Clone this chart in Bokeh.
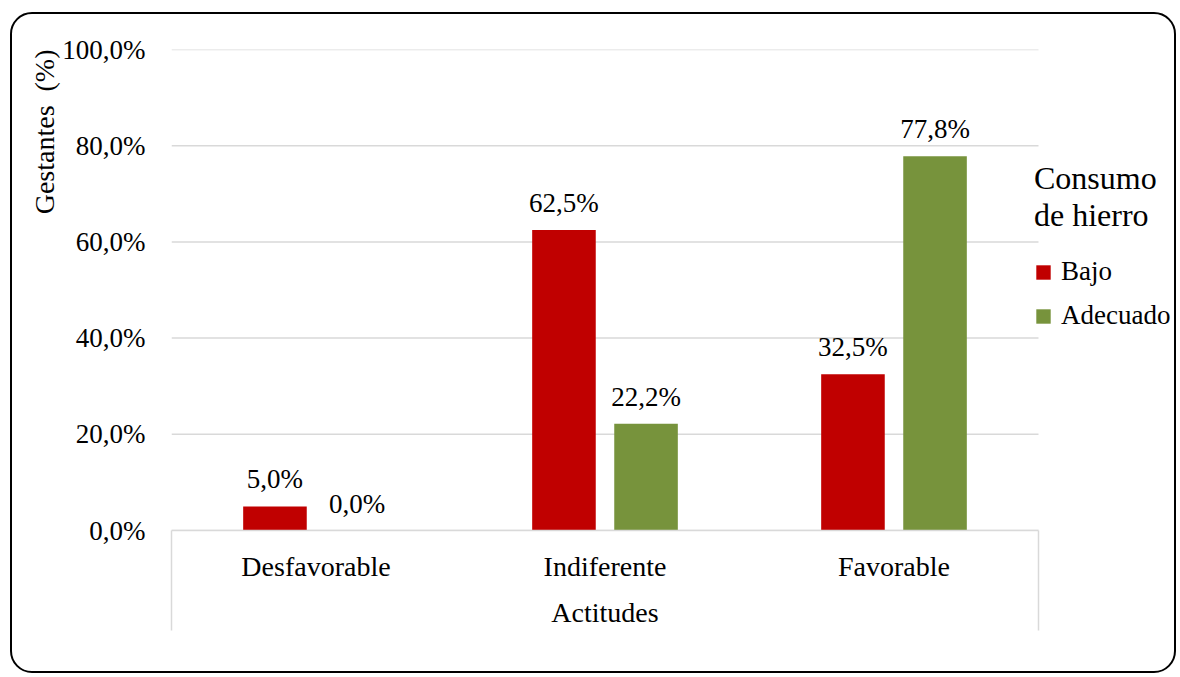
from bokeh.plotting import figure
from bokeh.models import (Range1d, FixedTicker, Legend, LegendItem,
                          ColumnDataSource, Title, LinearAxis)
from bokeh.core.properties import value
from bokeh.embed import file_html
from bokeh.resources import INLINE

# Datos
categorias = ["Desfavorable", "Indiferente", "Favorable"]
bajo = [5.0, 62.5, 32.5]
adecuado = [0.0, 22.2, 77.8]
series = ["Bajo", "Adecuado"]
colores = ["#C00000", "#77933C"]
y_ticks = [0, 20, 40, 60, 80, 100]
titulo_x = "Actitudes"
titulo_y = "Gestantes\u00a0 (%)"
titulo_leyenda = "Consumo\nde hierro"

FONT = "Liberation Serif"
GRIS = "#D9D9D9"
DESPL = 0.142      # desplazamiento de cada serie respecto al centro de la categoría
ANCHO = 0.22
BORDE_X = 100      # largo de las líneas verticales en los extremos del eje X

W, H = 1166, 661   # lienzo; el marco redondeado se dibuja por fuera
MARCO = 2
IZQ, ABAJO, ARRIBA = 159, 145, 35
ANCHO_CAT = 289    # píxeles por categoría
n_cat = len(categorias)
# el área de trazado llega hasta el borde derecho para alojar la leyenda;
# las categorías ocupan solo la parte izquierda
x_fin = (W - IZQ) / ANCHO_CAT


def pct(v):
    return f"{v:.1f}".replace(".", ",") + "%"


centros = [i + 0.5 for i in range(n_cat)]
src = ColumnDataSource(dict(
    x_bajo=[c - DESPL for c in centros],
    x_adec=[c + DESPL for c in centros],
    bajo=bajo,
    adecuado=adecuado,
    et_bajo=[pct(v) for v in bajo],
    et_adec=[pct(v) for v in adecuado],
))

p = figure(width=W, height=H,
           x_range=Range1d(0, x_fin), y_range=Range1d(0, 100),
           output_backend="svg", toolbar_location=None,
           min_border_left=IZQ, min_border_right=0,
           min_border_top=ARRIBA, min_border_bottom=ABAJO)
p.outline_line_color = None
p.border_fill_color = None
p.background_fill_color = None
p.styles = {"margin-left": "10px", "margin-top": "12px",
            "border": f"{MARCO}px solid #000", "border-radius": "22px",
            "overflow": "hidden"}

# Líneas de división horizontales, limitadas a la zona de categorías
p.xgrid.grid_line_color = None
p.ygrid.grid_line_color = None
p.segment(x0=[0] * len(y_ticks), x1=[n_cat] * len(y_ticks),
          y0=y_ticks, y1=y_ticks, line_color=GRIS, line_width=1.5)

r_bajo = p.vbar(x="x_bajo", top="bajo", width=ANCHO, source=src,
                fill_color=colores[0], line_color=None)
r_adec = p.vbar(x="x_adec", top="adecuado", width=ANCHO, source=src,
                fill_color=colores[1], line_color=None)

for xcol, ycol, tcol in (("x_bajo", "bajo", "et_bajo"),
                         ("x_adec", "adecuado", "et_adec")):
    p.text(x=xcol, y=ycol, text=tcol, source=src,
           text_align="center", text_baseline="middle", y_offset=-27,
           text_font=value(FONT), text_font_size="27px", text_color="#000")

# Eje Y
p.yaxis.ticker = FixedTicker(ticks=y_ticks)
p.yaxis.major_label_overrides = {t: pct(t) for t in y_ticks}
p.yaxis.axis_line_color = None
p.yaxis.major_tick_line_color = None
p.yaxis.minor_tick_line_color = None
p.yaxis.major_tick_out = 0
p.yaxis.major_tick_in = 0
p.yaxis.major_label_standoff = 26
p.yaxis.major_label_text_font = FONT
p.yaxis.major_label_text_font_size = "27px"
p.yaxis.major_label_text_color = "#000"

# Eje X: etiquetas en el centro de cada categoría, marcas largas en los bordes
p.xaxis.bounds = (0, n_cat)
p.xaxis.ticker = FixedTicker(ticks=centros, minor_ticks=[0, n_cat])
p.xaxis.major_label_overrides = {c: n for c, n in zip(centros, categorias)}
p.xaxis.axis_line_color = GRIS
p.xaxis.axis_line_width = 1.5
p.xaxis.major_tick_line_color = None
p.xaxis.major_tick_out = 0
p.xaxis.major_tick_in = 0
p.xaxis.minor_tick_line_color = GRIS
p.xaxis.minor_tick_line_width = 1.5
p.xaxis.minor_tick_out = BORDE_X
p.xaxis.minor_tick_in = 0
# las etiquetas suben dentro de la zona de las marcas de borde
p.xaxis.major_label_standoff = 20 - BORDE_X
p.xaxis.major_label_text_font = FONT
p.xaxis.major_label_text_font_size = "28px"
p.xaxis.major_label_text_color = "#000"

# Título del eje X, centrado bajo las categorías
centro_x = n_cat / 2
eje_titulo = LinearAxis(
    ticker=FixedTicker(ticks=[centro_x], minor_ticks=[]),
    major_label_overrides={centro_x: titulo_x},
    axis_line_color=None, major_tick_line_color=None,
    minor_tick_line_color=None, major_tick_out=0, major_tick_in=0,
    minor_tick_out=0, minor_tick_in=0,
    major_label_standoff=12,
    major_label_text_font=FONT, major_label_text_font_size="28px",
    major_label_text_color="#000",
)
p.add_layout(eje_titulo, "below")

# Título del eje Y, alineado hacia arriba
p.add_layout(Title(text=titulo_y, align="right", standoff=0, offset=0,
                   text_font=FONT, text_font_size="28px",
                   text_font_style="normal", text_color="#000"), "left")

legend = Legend(
    items=[LegendItem(label=series[0], renderers=[r_bajo]),
           LegendItem(label=series[1], renderers=[r_adec])],
    location=(863, 199),
    title=titulo_leyenda,
    title_text_font=FONT, title_text_font_size="32px",
    title_text_font_style="normal", title_text_color="#000",
    title_standoff=22,
    label_text_font=FONT, label_text_font_size="27px", label_text_color="#000",
    glyph_width=18, glyph_height=18, label_standoff=9,
    label_height=30, spacing=13,
    padding=0, margin=0,
    border_line_color=None, background_fill_color=None,
)
p.add_layout(legend, "center")

open("out.html", "w").write(file_html(p, INLINE))
